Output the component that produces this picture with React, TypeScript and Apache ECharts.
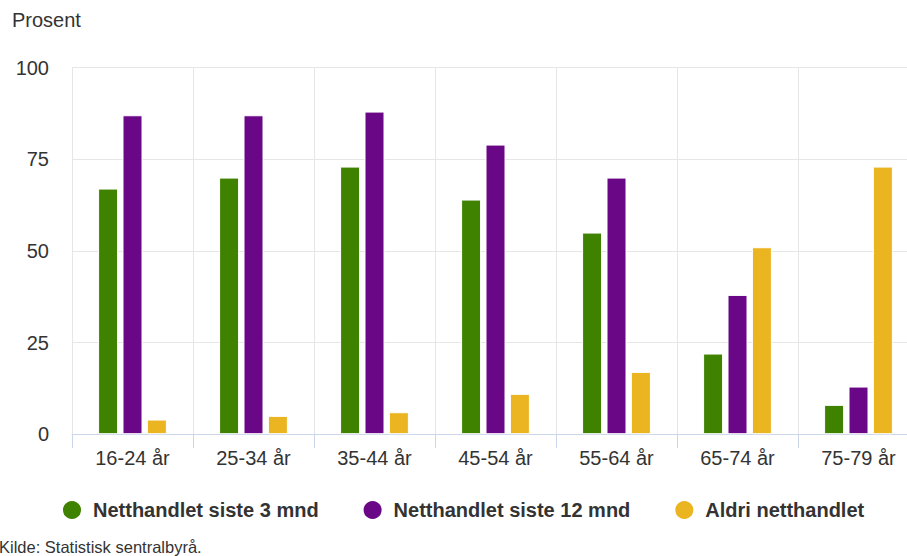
import React, { useEffect, useRef } from "react";
import * as echarts from "echarts";

// Andel som har handlet på nett, etter alder (prosent)
const categories = ["16-24 år", "25-34 år", "35-44 år", "45-54 år", "55-64 år", "65-74 år", "75-79 år"];
const siste3mnd = [67, 70, 73, 64, 55, 22, 8];
const siste12mnd = [87, 87, 88, 79, 70, 38, 13];
const aldri = [4, 5, 6, 11, 17, 51, 73];
const yTicks = [0, 25, 50, 75, 100];

const seriesNames = ["Netthandlet siste 3 mnd", "Netthandlet siste 12 mnd", "Aldri netthandlet"];
const colors = ["#3e8200", "#6a0787", "#ebb421"];

const FONT = "'Liberation Sans', Arial, Helvetica, sans-serif";

export default function App() {
  const ref = useRef<HTMLDivElement>(null);

  useEffect(() => {
    if (!ref.current) return;
    const chart = echarts.init(ref.current, undefined, { renderer: "svg" });
    const values = [siste3mnd, siste12mnd, aldri];

    chart.setOption({
      animation: false,
      textStyle: { fontFamily: FONT },
      // the plot runs a little past the right edge of the canvas
      grid: {
        left: 72,
        width: 847,
        top: 67.6,
        height: 434.2 - 67.6,
        containLabel: false,
        outerBoundsMode: "none",
      },
      xAxis: {
        type: "category",
        data: categories,
        axisLine: { show: true, lineStyle: { color: "#ccd6eb", width: 1 } },
        axisTick: { show: true, length: 14, lineStyle: { color: "#ccd6eb" } },
        axisLabel: { color: "#333333", fontSize: 20, margin: 14, fontFamily: FONT },
        splitLine: { show: true, lineStyle: { color: "#e6e6e6", width: 1 } },
      },
      yAxis: {
        type: "value",
        min: yTicks[0],
        max: yTicks[yTicks.length - 1],
        interval: 25,
        axisLine: { show: false },
        axisTick: { show: false },
        axisLabel: { color: "#333333", fontSize: 20, margin: 23, fontFamily: FONT },
        splitLine: { show: true, lineStyle: { color: "#e6e6e6", width: 1 } },
      },
      legend: {
        show: true,
        left: 56,
        top: 494,
        icon: "circle",
        itemWidth: 20,
        itemHeight: 20,
        itemGap: 43,
        data: seriesNames,
        textStyle: {
          color: "#333333",
          fontSize: 20,
          fontWeight: "bold",
          fontFamily: FONT,
          padding: [0, 0, 0, 6],
        },
      },
      graphic: [
        {
          type: "text",
          left: 12,
          top: 10,
          style: { text: "Prosent", fontSize: 20, fill: "#333333", fontFamily: FONT },
        },
        {
          type: "text",
          left: -1,
          top: 538,
          style: { text: "Kilde: Statistisk sentralbyrå.", fontSize: 16.5, fill: "#333333", fontFamily: FONT },
        },
      ],
      series: seriesNames.map((name, i) => ({
        name,
        type: "bar",
        data: values[i],
        barWidth: 20,
        barGap: "22%",
        itemStyle: { color: colors[i], borderColor: "#ffffff", borderWidth: 1 },
      })),
    });

    return () => chart.dispose();
  }, []);

  return (
    <div
      ref={ref}
      style={{ position: "fixed", left: 0, top: 0, width: 907, height: 556, background: "#ffffff" }}
    />
  );
}
